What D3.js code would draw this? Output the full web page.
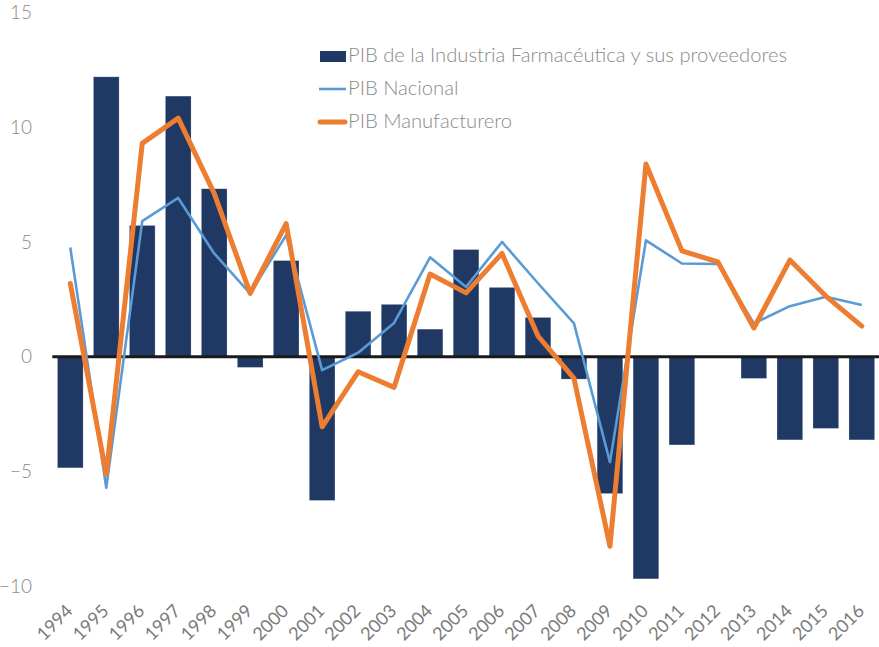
<!DOCTYPE html>
<html>
<head>
<meta charset="utf-8">
<script src="https://cdn.jsdelivr.net/npm/d3@7"></script>
<style>
  html, body { margin: 0; padding: 0; background: #ffffff; }
  svg { display: block; font-family: Lato, "Open Sans", sans-serif; }
</style>
</head>
<body>
<svg id="chart" width="879" height="647"></svg>
<script>
const years = ["1994","1995","1996","1997","1998","1999","2000","2001","2002","2003","2004","2005","2006","2007","2008","2009","2010","2011","2012","2013","2014","2015","2016"];
const pharma = [-4.85, 12.2, 5.72, 11.36, 7.32, -0.47, 4.19, -6.27, 1.98, 2.28, 1.2, 4.67, 3.02, 1.71, -0.98, -5.97, -9.69, -3.85, 0, -0.95, -3.63, -3.13, -3.63];
const nacional = [4.76, -5.72, 5.91, 6.92, 4.5, 2.75, 5.3, -0.59, 0.17, 1.47, 4.33, 3.04, 5.0, 3.2, 1.45, -4.6, 5.07, 4.06, 4.04, 1.45, 2.2, 2.61, 2.25];
const manuf = [3.19, -5.13, 9.3, 10.4, 7.12, 2.76, 5.8, -3.06, -0.66, -1.34, 3.6, 2.78, 4.5, 0.9, -0.95, -8.27, 8.4, 4.61, 4.13, 1.25, 4.21, 2.64, 1.33];
const yTicks = [-10, -5, 0, 5, 10, 15];
const legendLabels = ["PIB de la Industria Farmacéutica y sus proveedores", "PIB Nacional", "PIB Manufacturero"];

const colBar = "#1F3864", colNac = "#5B9BD5", colMan = "#ED7D31", colText = "#8a8a8a";

const svg = d3.select("#chart");
const x = d3.scaleBand().domain(years).range([52.3, 879.8]).paddingInner(0.286).paddingOuter(0.143);
const y = d3.scaleLinear().domain([-10, 15]).range([586, 12.6]);

// Y axis
const yAxis = svg.append("g").attr("transform", "translate(35,0)")
  .call(d3.axisLeft(y).tickValues(yTicks).tickSize(0).tickPadding(3).tickFormat(d3.format("d")));
yAxis.select(".domain").remove();
yAxis.selectAll("text").attr("fill", colText).style("font-size", "19px").style("font-family", "Lato, sans-serif").style("font-weight", 300);

// X axis
const xAxis = svg.append("g").attr("transform", "translate(0,600)")
  .call(d3.axisBottom(x).tickSize(0));
xAxis.select(".domain").remove();
xAxis.selectAll("text")
  .attr("fill", "#7a7a7a")
  .attr("x", 0).attr("y", 0).attr("dy", 0)
  .attr("text-anchor", "end")
  .attr("transform", "translate(3.5,12) rotate(-45)")
  .style("font-size", "18px").style("font-family", "Lato, sans-serif").style("font-weight", 400);

// Bars
svg.append("g").selectAll("rect").data(years).join("rect")
  .attr("x", d => x(d))
  .attr("width", x.bandwidth())
  .attr("y", (d, i) => y(Math.max(0, pharma[i])))
  .attr("height", (d, i) => Math.abs(y(pharma[i]) - y(0)))
  .attr("fill", colBar)
  .attr("stroke", "#ffffff").attr("stroke-opacity", 0.4).attr("stroke-width", 0.6);

// Zero line
svg.append("line")
  .attr("x1", x.range()[0]).attr("x2", x.range()[1])
  .attr("y1", y(0)).attr("y2", y(0))
  .attr("stroke", "#1a1a1a").attr("stroke-width", 3);

const cx = d => x(d) + x.bandwidth() / 2;
const lineGen = vals => d3.line().x((d) => cx(d)).y((d, i) => y(vals[i]))(years);

svg.append("path").attr("d", lineGen(nacional))
  .attr("fill", "none").attr("stroke", colNac).attr("stroke-width", 2.6)
  .attr("stroke-linejoin", "round").attr("stroke-linecap", "butt");
svg.append("path").attr("d", lineGen(manuf))
  .attr("fill", "none").attr("stroke", colMan).attr("stroke-width", 5)
  .attr("stroke-linejoin", "round").attr("stroke-linecap", "round");

// Legend
const lg = svg.append("g");
const rowY = [56, 89, 122];
lg.append("rect").attr("x", 320).attr("y", rowY[0] - 5).attr("width", 26).attr("height", 11).attr("fill", colBar);
lg.append("line").attr("x1", 319).attr("x2", 346).attr("y1", rowY[1]).attr("y2", rowY[1])
  .attr("stroke", colNac).attr("stroke-width", 2.6);
lg.append("line").attr("x1", 320).attr("x2", 345).attr("y1", rowY[2]).attr("y2", rowY[2])
  .attr("stroke", colMan).attr("stroke-width", 5).attr("stroke-linecap", "round");
lg.selectAll("text").data(legendLabels).join("text")
  .attr("x", 348).attr("y", (d, i) => rowY[i] + 6)
  .attr("fill", colText)
  .style("font-size", "20.2px").style("font-weight", 300)
  .text(d => d);
</script>
</body>
</html>
